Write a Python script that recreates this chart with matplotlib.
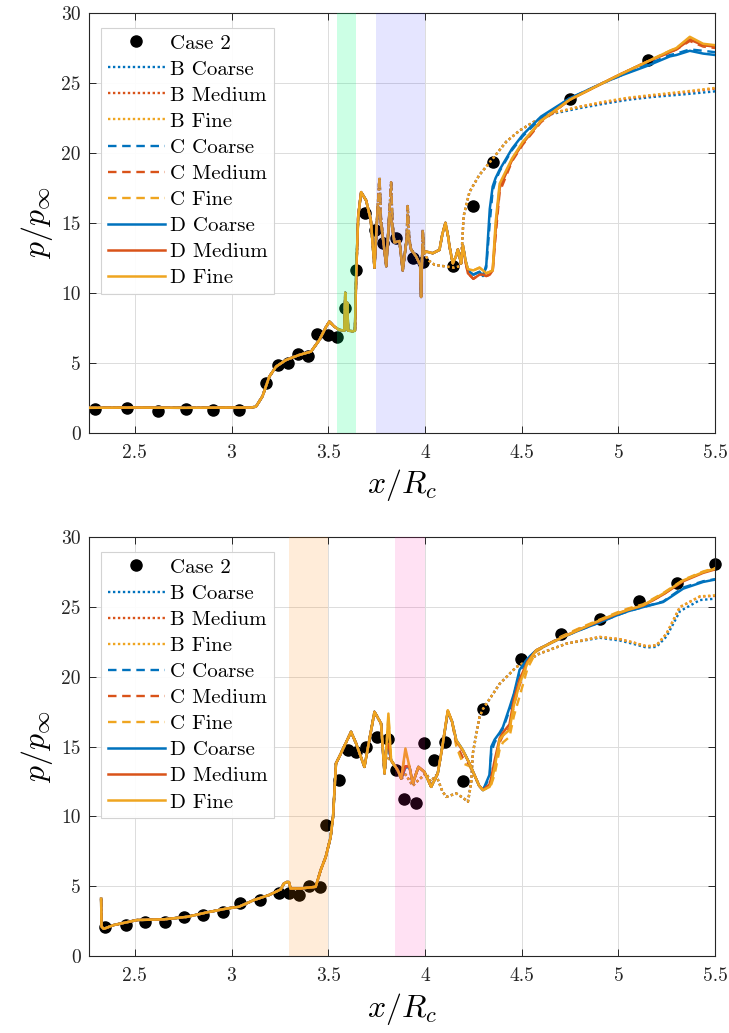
import numpy as np
import matplotlib
matplotlib.use("Agg")
import matplotlib.pyplot as plt

plt.rcParams['font.family'] = 'serif'
plt.rcParams['font.serif'] = ['cmr10', 'DejaVu Serif']
plt.rcParams['mathtext.fontset'] = 'cm'
plt.rcParams['axes.formatter.use_mathtext'] = True

# ---------------- DATA ----------------
labels = ['Case 2', 'B Coarse', 'B Medium', 'B Fine', 'C Coarse', 'C Medium',
          'C Fine', 'D Coarse', 'D Medium', 'D Fine']
x_ticks = [2.5, 3.0, 3.5, 4.0, 4.5, 5.0, 5.5]
x_tick_labels = ['2.5', '3', '3.5', '4', '4.5', '5', '5.5']
y_ticks = [0, 5, 10, 15, 20, 25, 30]
y_tick_labels = ['0', '5', '10', '15', '20', '25', '30']

# ---- top panel: experiment ----
top_exp_x = [2.293, 2.462, 2.619, 2.764, 2.905, 3.041, 3.178, 3.242, 3.293, 3.342,
             3.397, 3.442, 3.497, 3.543, 3.589, 3.644, 3.692, 3.744, 3.782, 3.851,
             3.937, 3.992, 4.144, 4.247, 4.351, 4.748, 5.153]
top_exp_y = [1.70, 1.75, 1.55, 1.72, 1.60, 1.62, 3.58, 4.84, 4.96, 5.63,
             5.49, 7.04, 6.99, 6.87, 8.90, 11.64, 15.69, 14.50, 13.55, 13.90,
             12.47, 12.23, 11.95, 16.24, 19.34, 23.87, 26.66]

# ---- top panel: simulations (shared early part) ----
top_early_x = [2.26, 2.50, 2.75, 3.00, 3.10, 3.126, 3.16, 3.195, 3.23, 3.282, 3.35,
               3.411, 3.454, 3.49, 3.506, 3.532, 3.557, 3.583, 3.588, 3.593, 3.598,
               3.603, 3.626, 3.638, 3.645, 3.655, 3.67]
top_early_y = [1.78, 1.80, 1.78, 1.80, 1.80, 1.86, 2.60, 4.00, 4.72, 5.20, 5.56,
               5.80, 6.63, 7.60, 7.94, 7.58, 7.35, 7.30, 10.0, 7.40, 9.30,
               7.30, 7.25, 7.30, 11.6, 15.5, 17.2]
top_mid_x = [3.696, 3.72, 3.739, 3.756, 3.765, 3.772, 3.782, 3.80, 3.816, 3.825,
             3.832, 3.842, 3.868, 3.885, 3.905, 3.911, 3.918, 3.928, 3.954, 3.975,
             3.98, 3.985, 3.989, 3.995]
top_mid_spiky = [16.6, 15.2, 11.8, 16.2, 18.3, 15.5, 14.0, 11.9, 15.7, 17.9,
                 15.0, 13.6, 13.7, 11.6, 13.8, 16.2, 14.0, 13.1, 12.6, 12.0,
                 9.7, 12.5, 14.5, 12.8]
top_mid_smooth = [16.6, 15.2, 11.8, 16.2, 15.9, 15.0, 14.0, 11.9, 15.7, 15.3,
                  14.5, 13.6, 13.7, 11.6, 13.8, 14.2, 13.8, 13.1, 12.6, 12.0,
                  9.7, 12.5, 13.5, 12.8]

top_b_x = [4.02, 4.05, 4.10, 4.15, 4.18, 4.19, 4.20, 4.23, 4.28, 4.351,
           4.42, 4.489, 4.56, 4.661, 4.80, 4.92, 5.05, 5.179, 5.35, 5.50]
top_b_coarse = [12.3, 12.0, 11.9, 11.8, 11.9, 13.0, 15.5, 17.2, 18.4, 19.6,
                20.8, 21.6, 22.2, 22.8, 23.2, 23.5, 23.8, 24.0, 24.2, 24.4]
top_b_medium = [12.3, 12.0, 11.9, 11.8, 11.9, 13.0, 15.5, 17.2, 18.4, 19.6,
                20.8, 21.6, 22.2, 22.85, 23.3, 23.6, 23.9, 24.1, 24.35, 24.6]
top_b_fine = [12.3, 12.0, 11.9, 11.8, 11.9, 13.0, 15.5, 17.2, 18.4, 19.6,
              20.8, 21.6, 22.2, 22.85, 23.3, 23.65, 23.95, 24.15, 24.4, 24.65]

top_cd_x = [4.006, 4.04, 4.075, 4.09, 4.106, 4.12, 4.127, 4.144, 4.16, 4.17,
            4.187, 4.196, 4.21, 4.222, 4.25, 4.282, 4.30, 4.317, 4.335, 4.35,
            4.365, 4.386, 4.45, 4.506, 4.6, 4.748, 4.92, 5.007, 5.145, 5.266,
            5.3, 5.369, 5.438, 5.5]
top_c_coarse = [12.95, 12.83, 13.07, 14.2, 15.0, 14.0, 13.3, 12.1, 12.6, 13.1,
                12.1, 13.4, 12.3, 11.6, 11.3, 11.5, 11.3, 11.8, 15.0, 17.3,
                18.0, 18.7, 20.2, 21.2, 22.5, 23.9, 25.0, 25.5, 26.3, 27.0,
                27.1, 27.4, 27.3, 27.2]
top_c_medium = [12.95, 12.83, 13.07, 14.2, 15.0, 14.0, 13.3, 12.1, 12.6, 13.1,
                12.1, 13.4, 12.2, 11.4, 11.0, 11.3, 11.3, 11.2, 11.3, 11.5,
                14.0, 17.2, 19.4, 20.6, 22.2, 23.8, 25.0, 25.6, 26.5, 27.2,
                27.4, 28.0, 27.6, 27.5]
top_c_fine = [12.95, 12.83, 13.07, 14.2, 15.0, 14.0, 13.3, 12.1, 12.6, 13.1,
              12.1, 13.4, 12.3, 11.7, 11.6, 11.8, 11.6, 11.4, 11.5, 11.6,
              14.6, 17.6, 19.5, 20.7, 22.3, 23.8, 25.0, 25.6, 26.5, 27.3,
              27.5, 28.2, 27.7, 27.6]
top_d_coarse = [12.95, 12.83, 13.07, 14.2, 15.0, 14.0, 13.3, 12.1, 12.6, 13.1,
                12.1, 13.4, 12.3, 11.6, 11.3, 11.5, 11.2, 12.0, 16.0, 17.6,
                18.2, 18.8, 20.3, 21.3, 22.6, 23.9, 25.0, 25.5, 26.2, 26.9,
                27.0, 27.3, 27.1, 27.0]
top_d_medium = [12.95, 12.83, 13.07, 14.2, 15.0, 14.0, 13.3, 12.1, 12.6, 13.1,
                12.1, 13.4, 12.2, 11.4, 11.0, 11.3, 11.3, 11.2, 11.3, 11.6,
                14.5, 17.5, 19.5, 20.7, 22.3, 23.8, 25.0, 25.6, 26.5, 27.2,
                27.4, 28.1, 27.7, 27.6]
top_d_fine = [12.95, 12.83, 13.07, 14.2, 15.0, 14.0, 13.3, 12.1, 12.6, 13.1,
              12.1, 13.4, 12.3, 11.7, 11.6, 11.8, 11.6, 11.4, 11.5, 11.6,
              15.0, 17.8, 19.6, 20.8, 22.3, 23.8, 25.0, 25.6, 26.5, 27.3,
              27.5, 28.3, 27.8, 27.7]

# ---- bottom panel: experiment ----
bot_exp_x = [2.348, 2.455, 2.552, 2.658, 2.754, 2.853, 2.955, 3.043, 3.147, 3.248,
             3.297, 3.349, 3.400, 3.456, 3.487, 3.557, 3.600, 3.644, 3.696, 3.751,
             3.808, 3.851, 3.894, 3.954, 3.997, 4.049, 4.101, 4.199, 4.300, 4.498,
             4.705, 4.903, 5.105, 5.302, 5.500]
bot_exp_y = [2.05, 2.22, 2.46, 2.43, 2.77, 2.91, 3.13, 3.77, 4.01, 4.53,
             4.49, 4.37, 5.01, 4.92, 9.38, 12.60, 14.75, 14.62, 14.94, 15.66,
             15.58, 13.36, 11.24, 10.93, 15.27, 14.03, 15.34, 12.55, 17.68, 21.30,
             23.05, 24.12, 25.43, 26.75, 28.11]

# ---- bottom panel: simulations ----
bot_early_x = [2.326, 2.328, 2.34, 2.391, 2.512, 2.65, 2.771, 2.874, 2.978, 3.038,
               3.116, 3.194, 3.254, 3.271, 3.285, 3.297, 3.305, 3.357, 3.435, 3.461,
               3.487, 3.512, 3.525, 3.54, 3.557, 3.618, 3.644, 3.687, 3.739, 3.773,
               3.791]
bot_early_y = [4.10, 2.10, 1.95, 2.22, 2.58, 2.63, 2.81, 3.13, 3.41, 3.53,
               4.01, 4.37, 4.77, 5.20, 5.30, 5.30, 4.84, 4.84, 4.96, 6.16,
               7.10, 8.50, 10.0, 13.8, 14.27, 16.06, 15.23, 13.55, 17.49, 16.66,
               13.08]

bot_b_x = [3.80, 3.825, 3.859, 3.877, 3.90, 3.937, 3.966, 4.006, 4.03, 4.058,
           4.09, 4.11, 4.162, 4.20, 4.222, 4.239, 4.247, 4.282, 4.30, 4.386,
           4.472, 4.593, 4.731, 4.903, 5.007, 5.08, 5.145, 5.197, 5.249, 5.318,
           5.421, 5.5]
bot_b_coarse = [14.3, 14.0, 13.3, 12.7, 13.0, 12.2, 12.6, 13.08, 12.5, 12.96,
                11.8, 11.4, 11.65, 11.3, 11.05, 12.4, 14.5, 17.13, 17.7, 19.5,
                20.7, 21.67, 22.38, 22.8, 22.6, 22.35, 22.1, 22.15, 22.9, 24.7,
                25.5, 25.6]
bot_b_medium = [14.3, 14.0, 13.3, 12.7, 13.0, 12.2, 12.6, 13.08, 12.5, 12.96,
                11.8, 11.4, 11.65, 11.3, 11.05, 12.4, 14.5, 17.13, 17.7, 19.5,
                20.7, 21.67, 22.38, 22.86, 22.7, 22.45, 22.19, 22.26, 23.1, 25.0,
                25.75, 25.8]
bot_b_fine = [14.3, 14.0, 13.3, 12.7, 13.0, 12.2, 12.6, 13.08, 12.5, 12.96,
              11.8, 11.4, 11.65, 11.3, 11.05, 12.4, 14.5, 17.13, 17.7, 19.5,
              20.7, 21.67, 22.38, 22.86, 22.7, 22.45, 22.19, 22.26, 23.1, 25.0,
              25.77, 25.84]

bot_cd_x = [3.80, 3.811, 3.825, 3.859, 3.877, 3.899, 3.92, 3.937, 3.966, 3.997,
            4.032, 4.066, 4.09, 4.118, 4.14, 4.162, 4.196, 4.23, 4.256, 4.28,
            4.30, 4.334, 4.343, 4.36, 4.386, 4.403, 4.437, 4.46, 4.489, 4.53,
            4.575, 4.705, 4.8, 4.903, 4.99, 5.05, 5.128, 5.231, 5.335, 5.438,
            5.5]
bot_c_coarse = [14.8, 15.0, 14.03, 13.32, 12.72, 13.5, 13.55, 12.36, 13.55, 13.19,
                12.12, 13.08, 15.0, 17.5, 16.8, 15.46, 14.75, 13.8, 12.96, 12.2,
                11.88, 12.8, 14.6, 15.3, 15.9, 16.3, 17.6, 18.7, 20.3, 21.3,
                21.9, 22.8, 23.35, 23.9, 24.4, 24.7, 25.0, 25.4, 26.4, 26.85,
                27.0]
bot_c_medium = [14.8, 15.1, 14.03, 13.32, 12.72, 13.6, 13.55, 12.36, 13.55, 13.19,
                12.12, 13.08, 15.0, 17.55, 16.8, 15.2, 14.2, 13.7, 12.96, 12.2,
                11.9, 12.2, 12.6, 13.6, 15.3, 15.8, 16.3, 18.0, 19.4, 21.0,
                21.9, 22.85, 23.45, 24.05, 24.5, 24.8, 25.1, 25.9, 26.9, 27.5,
                27.75]
bot_c_fine = [14.8, 17.2, 14.03, 13.32, 12.72, 14.6, 13.55, 12.36, 13.55, 13.19,
              12.12, 13.08, 15.0, 17.6, 16.8, 15.0, 13.8, 13.6, 12.96, 12.2,
              11.9, 12.1, 12.3, 13.0, 14.8, 15.3, 15.7, 17.2, 18.6, 20.6,
              21.8, 22.9, 23.5, 24.1, 24.6, 24.9, 25.2, 26.0, 26.95, 27.55,
              27.8]
bot_d_coarse = [14.8, 15.0, 14.03, 13.32, 12.72, 13.5, 13.55, 12.36, 13.55, 13.19,
                12.12, 13.08, 15.0, 17.5, 16.8, 15.46, 14.75, 13.8, 12.96, 12.2,
                11.88, 13.0, 15.0, 15.5, 16.0, 16.4, 17.8, 18.8, 20.5, 21.3,
                21.9, 22.8, 23.35, 23.9, 24.4, 24.7, 25.0, 25.36, 26.32, 26.8,
                26.97]
bot_d_medium = [14.8, 15.2, 14.03, 13.32, 12.72, 13.6, 13.55, 12.36, 13.55, 13.19,
                12.12, 13.08, 15.0, 17.55, 16.8, 15.4, 14.7, 13.8, 12.96, 12.2,
                11.9, 12.3, 12.8, 14.0, 15.6, 16.0, 16.6, 18.4, 19.8, 21.1,
                21.9, 22.8, 23.4, 24.0, 24.5, 24.8, 25.1, 25.9, 26.85, 27.45,
                27.7]
bot_d_fine = [14.8, 17.37, 14.03, 13.32, 12.72, 14.87, 13.55, 12.36, 13.55, 13.19,
              12.12, 13.08, 15.0, 17.61, 16.8, 15.46, 14.75, 13.8, 12.96, 12.2,
              11.88, 12.12, 12.4, 13.5, 15.5, 15.8, 16.2, 18.0, 19.5, 21.0,
              21.9, 22.8, 23.4, 24.05, 24.53, 24.8, 25.13, 25.96, 26.91, 27.5,
              27.75]

top_bands = [(3.543, 3.644), (3.749, 4.0)]
bot_bands = [(3.299, 3.497), (3.846, 4.0)]

# ---------------- STYLE ----------------
C_BLUE = '#0072BD'
C_RED = '#D95319'
C_YEL = '#EFA520'
top_band_colors = [((0.0, 1.0, 0.5), 0.2), ((0.0, 0.0, 1.0), 0.1)]
bot_band_colors = [((1.0, 0.5, 0.0), 0.15), ((1.0, 0.1, 0.65), 0.13)]

dot_ls = (0, (1.0, 1.1))
dash_ls = (0, (3.6, 2.4))


def cat(*parts):
    return np.concatenate([np.asarray(p, float) for p in parts])


def draw_panel(ax, exp_x, exp_y, series, bands, band_cols):
    ax.plot(exp_x, exp_y, 'o', color='black', ms=8, label=labels[0],
            zorder=2, clip_on=False)
    for (xs, ys, col, ls), lab in zip(series, labels[1:]):
        lw = 1.7 if ls != '-' else 1.8
        ax.plot(xs, ys, color=col, ls=ls, lw=lw, label=lab, zorder=3)
    for (a, b), (c, al) in zip(bands, band_cols):
        ax.axvspan(a, b, color=c, alpha=al, lw=0, zorder=5)
    ax.set_xlim(2.263, 5.5)
    ax.set_ylim(0, 30)
    ax.set_xticks(x_ticks)
    ax.set_xticklabels(x_tick_labels)
    ax.set_yticks(y_ticks)
    ax.set_yticklabels(y_tick_labels)
    ax.grid(True, color='#dcdcdc', lw=0.7, zorder=0)
    ax.set_axisbelow(True)
    ax.tick_params(direction='in', top=True, right=True, length=5, width=0.7,
                   labelsize=14, colors='#262626', labelcolor='#262626')
    ax.tick_params(axis='x', pad=8)
    ax.tick_params(axis='y', pad=6)
    for s in ax.spines.values():
        s.set_color('#262626')
        s.set_linewidth(0.8)
    ax.set_xlabel(r'$x/R_c$', fontsize=23, labelpad=4)
    ax.set_ylabel(r'$p/p_\infty$', fontsize=23, labelpad=4)
    leg = ax.legend(loc='upper left', bbox_to_anchor=(0.02, 0.965),
                    borderaxespad=0, fontsize=15, labelspacing=0.36,
                    handlelength=2.75, handletextpad=0.25, borderpad=0.3,
                    fancybox=False, framealpha=0.92, edgecolor='#d0d0d0',
                    numpoints=1)
    leg.set_zorder(10)
    leg.get_frame().set_linewidth(0.8)


fig = plt.figure(figsize=(7.29, 10.33), dpi=100)
ax1 = fig.add_axes([0.122, 0.5811, 0.859, 0.4063])
ax2 = fig.add_axes([0.122, 0.0745, 0.859, 0.4054])

tex = cat(top_early_x, top_mid_x)
tys = cat(top_early_y, top_mid_spiky)
tyd = cat(top_early_y, top_mid_smooth)
top_series = [
    (cat(tex, top_b_x), cat(tys, top_b_coarse), C_BLUE, dot_ls),
    (cat(tex, top_b_x), cat(tys, top_b_medium), C_RED, dot_ls),
    (cat(tex, top_b_x), cat(tys, top_b_fine), C_YEL, dot_ls),
    (cat(tex, top_cd_x), cat(tys, top_c_coarse), C_BLUE, dash_ls),
    (cat(tex, top_cd_x), cat(tys, top_c_medium), C_RED, dash_ls),
    (cat(tex, top_cd_x), cat(tys, top_c_fine), C_YEL, dash_ls),
    (cat(tex, top_cd_x), cat(tyd, top_d_coarse), C_BLUE, '-'),
    (cat(tex, top_cd_x), cat(tyd, top_d_medium), C_RED, '-'),
    (cat(tex, top_cd_x), cat(tyd, top_d_fine), C_YEL, '-'),
]
bot_series = [
    (cat(bot_early_x, bot_b_x), cat(bot_early_y, bot_b_coarse), C_BLUE, dot_ls),
    (cat(bot_early_x, bot_b_x), cat(bot_early_y, bot_b_medium), C_RED, dot_ls),
    (cat(bot_early_x, bot_b_x), cat(bot_early_y, bot_b_fine), C_YEL, dot_ls),
    (cat(bot_early_x, bot_cd_x), cat(bot_early_y, bot_c_coarse), C_BLUE, dash_ls),
    (cat(bot_early_x, bot_cd_x), cat(bot_early_y, bot_c_medium), C_RED, dash_ls),
    (cat(bot_early_x, bot_cd_x), cat(bot_early_y, bot_c_fine), C_YEL, dash_ls),
    (cat(bot_early_x, bot_cd_x), cat(bot_early_y, bot_d_coarse), C_BLUE, '-'),
    (cat(bot_early_x, bot_cd_x), cat(bot_early_y, bot_d_medium), C_RED, '-'),
    (cat(bot_early_x, bot_cd_x), cat(bot_early_y, bot_d_fine), C_YEL, '-'),
]

draw_panel(ax1, top_exp_x, top_exp_y, top_series, top_bands, top_band_colors)
draw_panel(ax2, bot_exp_x, bot_exp_y, bot_series, bot_bands, bot_band_colors)

fig.savefig('out.png', dpi=100)
